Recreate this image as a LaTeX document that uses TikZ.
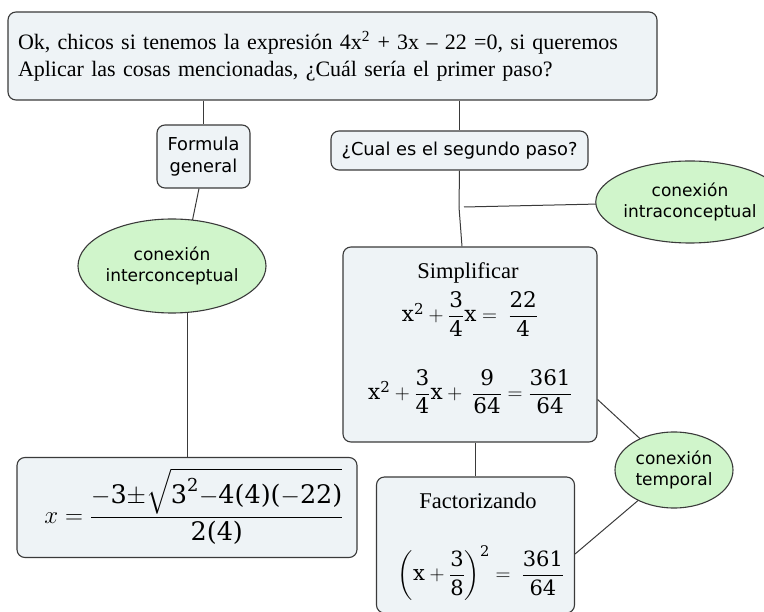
\documentclass[tikz,border=0pt]{standalone}
\usepackage{fontspec}
\usepackage{amsmath}
\setmainfont{Liberation Serif}
\newfontfamily\verd{DejaVu Sans}
\newfontfamily\camb{DejaVu Serif}
\newcommand\cn[1]{\text{\camb #1}}
\usetikzlibrary{shapes.geometric,backgrounds,calc}
\definecolor{boxfill}{HTML}{EEF3F6}
\definecolor{ovalfill}{HTML}{D0F5CB}
\definecolor{edgecol}{HTML}{3A3A3A}
\begin{document}
\begin{tikzpicture}[x=1pt,y=-1pt,
  concept/.style={draw=edgecol, line width=1.1pt, fill=boxfill, rounded corners=8pt, inner sep=0pt, align=center},
  oval/.style={ellipse, draw=edgecol, line width=1.1pt, fill=ovalfill, inner sep=0pt, align=center, font=\verd\fontsize{17}{20.5}\selectfont},
  sanslabel/.style={font=\verd\fontsize{17.8}{22}\selectfont},
  serlabel/.style={font=\fontsize{22.5}{26}\selectfont, inner sep=0pt},
  mathlabel/.style={font=\fontsize{21.5}{25}\selectfont, inner sep=0pt},
  link/.style={draw=edgecol, line width=1pt}]
\useasboundingbox (0,0) rectangle (764,612);
% nodes
\node[concept, minimum width=649pt, minimum height=88pt, text width=629pt, inner xsep=10pt, align=left, font=\fontsize{22}{27}\selectfont] (top) at (332.5,56) {Ok, chicos si tenemos la expresión 4x\textsuperscript{2} + 3x – 22 =0, si queremos\\Aplicar las cosas mencionadas, ¿Cuál sería el primer paso?};
\node[concept, sanslabel, minimum width=93pt, minimum height=63pt] (fg) at (203.5,156.5) {Formula\\general};
\node[concept, sanslabel, minimum width=257pt, minimum height=39pt] (seg) at (459.5,150.5) {¿Cual es el segundo paso?};
\node[oval, minimum width=176pt, minimum height=94pt] (inter) at (172,266) {conexión\\interconceptual};
\node[oval, minimum width=184pt, minimum height=82pt] (intra) at (690,202) {conexión\\intraconceptual};
\node[concept, minimum width=254pt, minimum height=195pt] (simp) at (470,344.5) {};
\node[serlabel, anchor=base] (simpT) at (468,279) {Simplificar};
\node[mathlabel] (simpA) at (470,314) {$\cn{x}^{\cn{2}}+\dfrac{\cn{3}}{\cn{4}}\cn{x}=\ \dfrac{\cn{22}}{\cn{4}}$};
\node[mathlabel] (simpB) at (470,392) {$\cn{x}^{\cn{2}}+\dfrac{\cn{3}}{\cn{4}}\cn{x}+\ \dfrac{\cn{9}}{\cn{64}}=\dfrac{\cn{361}}{\cn{64}}$};
\node[concept, minimum width=340pt, minimum height=100pt] (formula) at (187,507.5) {};
\node[font=\fontsize{25.5}{30}\selectfont, inner sep=0pt] (formulaE) at (194,506.5) {$x=\dfrac{-\cn{3}{\pm}\sqrt{\cn{3}^{\cn{2}}{-}\cn{4(4)(}{-}\cn{22)}}}{\cn{2(4)}}$};
\node[concept, minimum width=198pt, minimum height=136pt] (fact) at (475.5,545) {};
\node[serlabel, anchor=base] (factT) at (478,509) {Factorizando};
\node[mathlabel, font=\fontsize{21}{25}\selectfont] (factE) at (481,573) {$\left(\cn{x}+\dfrac{\cn{3}}{\cn{8}}\right)^{\cn{2}}=\ \dfrac{\cn{361}}{\cn{64}}$};
\node[oval, minimum width=118pt, minimum height=76pt] (temp) at (674,470) {conexión\\temporal};
\coordinate (jn) at (459,207);
% connectors
\begin{scope}[on background layer]
\draw[link] (fg.north |- top.south) -- (fg.north);
\draw[link] (seg.north |- top.south) -- (seg.north);
\draw[link] ([xshift=-4.5pt]fg.south) -- ([xshift=20pt,yshift=-4pt]inter.north);
\draw[link] (formula.north) -- (formula.north |- inter.center);
\draw[link] (seg.south) -- (jn);
\draw[link] (jn) -- ([xshift=-8pt]simp.north);
\draw[link] ([xshift=5pt]jn) -- (intra.center);
\draw[link] (fact.north |- simp.south) -- (fact.north);
\draw[link] ([yshift=-55pt]simp.east) -- (temp.center);
\draw[link] (temp.center) -- ([yshift=-9pt]fact.east);
\end{scope}
\end{tikzpicture}
\end{document}
